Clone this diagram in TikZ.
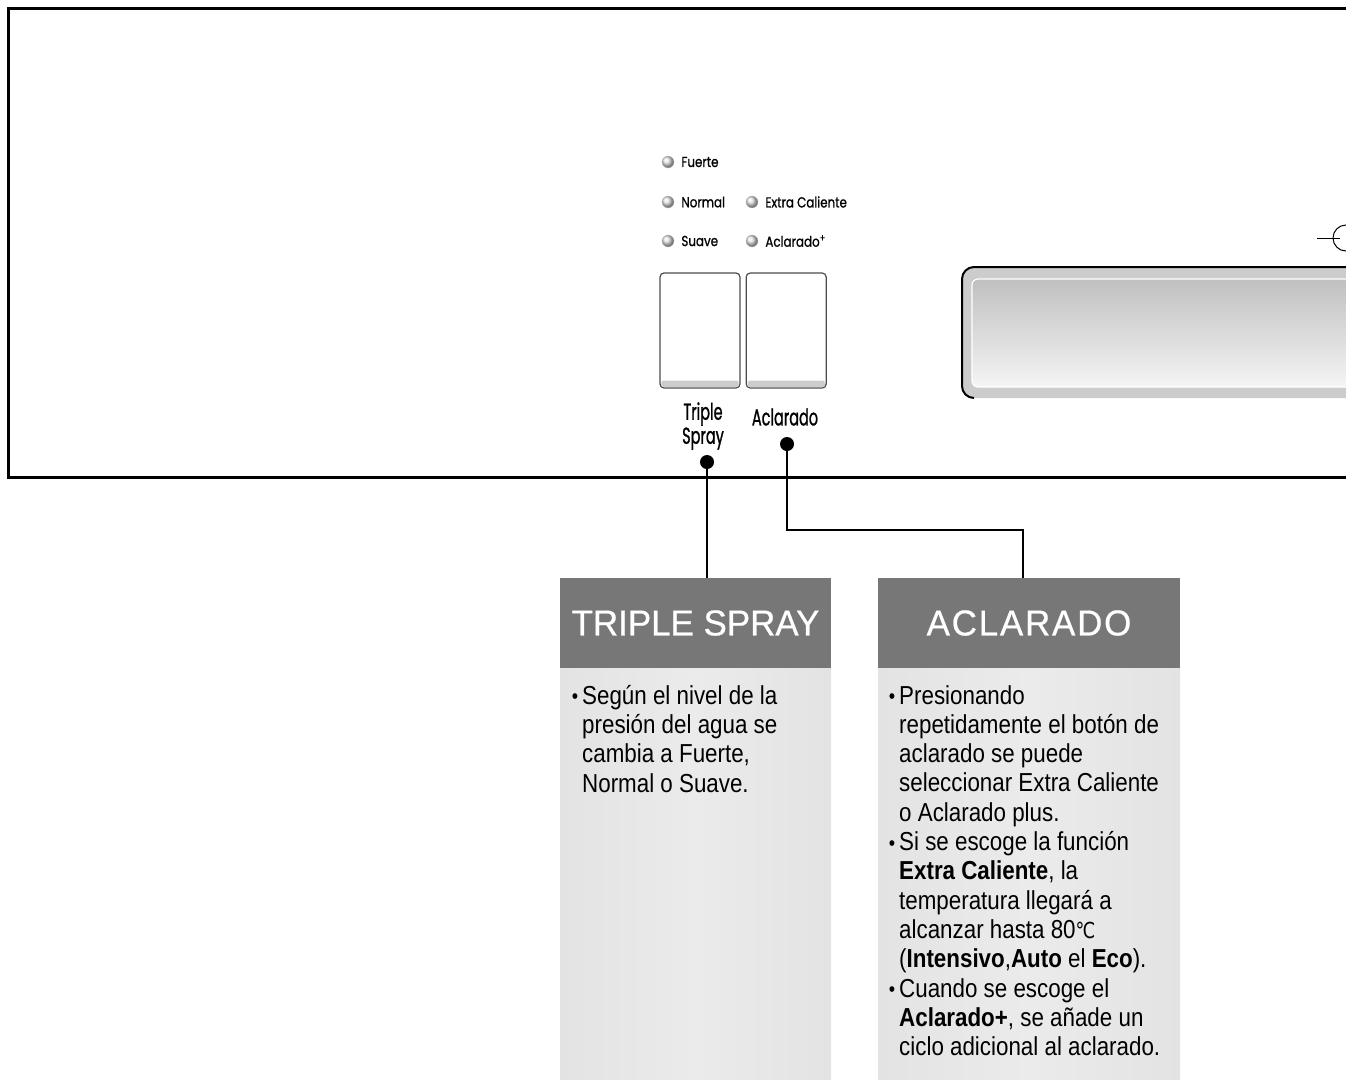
\documentclass[tikz,border=0pt]{standalone}
\usepackage{fontspec}
\setmainfont{Liberation Sans}
\newfontfamily\bodyfont[FakeStretch=0.86]{Liberation Sans}
\newfontfamily\headfont[FakeStretch=0.97,FakeBold=0.6]{Liberation Sans}
\newfontfamily\panelfont[FakeStretch=0.82,FakeBold=0.9]{Poppins}
\newfontfamily\btnfont[FakeStretch=0.63,FakeBold=1]{Poppins}
\newfontfamily\symfont[FakeStretch=0.8]{DejaVu Sans}
\usetikzlibrary{calc}
\usetikzlibrary{positioning}
\definecolor{headgray}{HTML}{777777}
\definecolor{bodygray}{HTML}{EBEBEB}
\definecolor{bodyedge}{HTML}{E3E3E3}
\tikzstyle{led} = [circle, draw=gray!50, ball color=gray!20, minimum size=12pt, inner sep=0pt]
\tikzstyle{ledlabel} = [anchor=west, inner sep=0pt, font=\panelfont\fontsize{14.5}{14.5}\selectfont]
\tikzstyle{btn} = [draw=black!70, line width=1.2pt, fill=white, rounded corners=4pt, minimum width=80pt, minimum height=115pt, inner sep=0pt]
\tikzstyle{btnlabel} = [align=center, inner sep=0pt, font=\btnfont\fontsize{23}{24}\selectfont]
\tikzstyle{pin} = [circle, fill=black, minimum size=14pt, inner sep=0pt]
\tikzstyle{wire} = [line width=1.5pt]
\tikzstyle{headbox} = [fill=headgray, text=white, minimum height=90pt, inner sep=0pt, font=\headfont\fontsize{36}{36}\selectfont]
\tikzstyle{bodybox} = [left color=bodyedge, right color=bodyedge, middle color=bodygray, minimum height=420pt, inner sep=0pt]
\tikzstyle{bodytext} = [anchor=north west, align=left, inner sep=0pt, font=\bodyfont\fontsize{26}{29.3}\selectfont]
\newcommand{\bul}{\llap{\raisebox{0.5pt}{\fontsize{21}{21}\selectfont •}\hspace{4pt}}}

\begin{document}
\begin{tikzpicture}[x=1pt,y=-1pt]
            \useasboundingbox (0,0) rectangle (1346,1079);
            % control panel outline, open to the right
            \draw [line width=3pt] (1360,8) -- (8,8) -- (8,477) -- (1360,477);

            % display window
            \fill [gray!40, rounded corners=12pt] (962,267) rectangle (1380,398);
            \draw [line width=2pt, rounded corners=12pt] (974,398) -- (962,398) -- (962,267) -- (1380,267);
            \shade [top color=gray!50, bottom color=gray!8, draw=white, line width=1.2pt, rounded corners=6pt] (972,279) rectangle (1380,387);
            \draw [line width=1pt] (1317,238) -- (1340,238);
            \draw [line width=1pt] (1346,238) circle [radius=13pt];

            % lamps
            \node (ledFuerte) [led] at (668,162) {};
            \node (ledNormal) [led] at (668,202) {};
            \node (ledSuave) [led] at (668,241) {};
            \node (ledExtra) [led] at (752,202) {};
            \node (ledPlus) [led] at (752,241) {};
            \node (txtFuerte) [ledlabel, right=7pt of ledFuerte] {Fuerte};
            \node (txtNormal) [ledlabel, right=7pt of ledNormal] {Normal};
            \node (txtSuave) [ledlabel, right=7pt of ledSuave] {Suave};
            \node (txtExtra) [ledlabel, right=7pt of ledExtra] {Extra Caliente};
            \node (txtPlus) [ledlabel, right=7pt of ledPlus] {Aclarado\textsuperscript{+}};

            % buttons
            \node (btnTriple) [btn] at (700,330.5) {};
            \node (btnAclarado) [btn, right=5pt of btnTriple] {};
            \fill [gray!40, rounded corners=2pt] ($(btnTriple.south west)+(2,-8)$) rectangle ($(btnTriple.south east)+(-2,-1.5)$);
            \fill [gray!40, rounded corners=2pt] ($(btnAclarado.south west)+(2,-8)$) rectangle ($(btnAclarado.south east)+(-2,-1.5)$);
            \node (lblTriple) [btnlabel] at (703,426) {Triple\\Spray};
            \node (lblAclarado) [btnlabel] at (785,417) {Aclarado};

            % call-out boxes
            \node (headTriple) [headbox, minimum width=271pt] at (695.5,623) {TRIPLE SPRAY};
            \node (headAclarado) [headbox, minimum width=302pt] at (1029,623) {\addfontfeature{LetterSpace=5}ACLARADO};
            \node (bodyTriple) [bodybox, minimum width=271pt, below=0pt of headTriple] {};
            \node (bodyAclarado) [bodybox, minimum width=302pt, below=0pt of headAclarado] {};

            % leader lines
            \node (pinTriple) [pin] at (707,462) {};
            \node (pinAclarado) [pin] at (787,444) {};
            \coordinate (bendAclarado) at (1023,530);
            \draw [wire] (pinTriple.center) -- (pinTriple.center |- headTriple.north);
            \draw [wire] (pinAclarado.center) |- (bendAclarado) -- (bendAclarado |- headAclarado.north);

            \node (txtTriple) [bodytext] at (582,685) {\bul Según el nivel de la\\presión del agua se\\cambia a Fuerte,\\Normal o Suave.};
            \node (txtAclarado) [bodytext] at (899,685) {\bul Presionando\\repetidamente el botón de\\aclarado se puede\\seleccionar Extra Caliente\\o Aclarado plus.\\
            \bul Si se escoge la función\\\textbf{Extra Caliente}, la\\temperatura llegará a\\alcanzar hasta 80{\symfont\fontsize{22}{22}\selectfont ℃}\\(\textbf{Intensivo},\textbf{Auto} el \textbf{Eco}).\\
            \bul Cuando se escoge el\\\textbf{Aclarado+}, se añade un\\ciclo adicional al aclarado.};
\end{tikzpicture}
\end{document}
